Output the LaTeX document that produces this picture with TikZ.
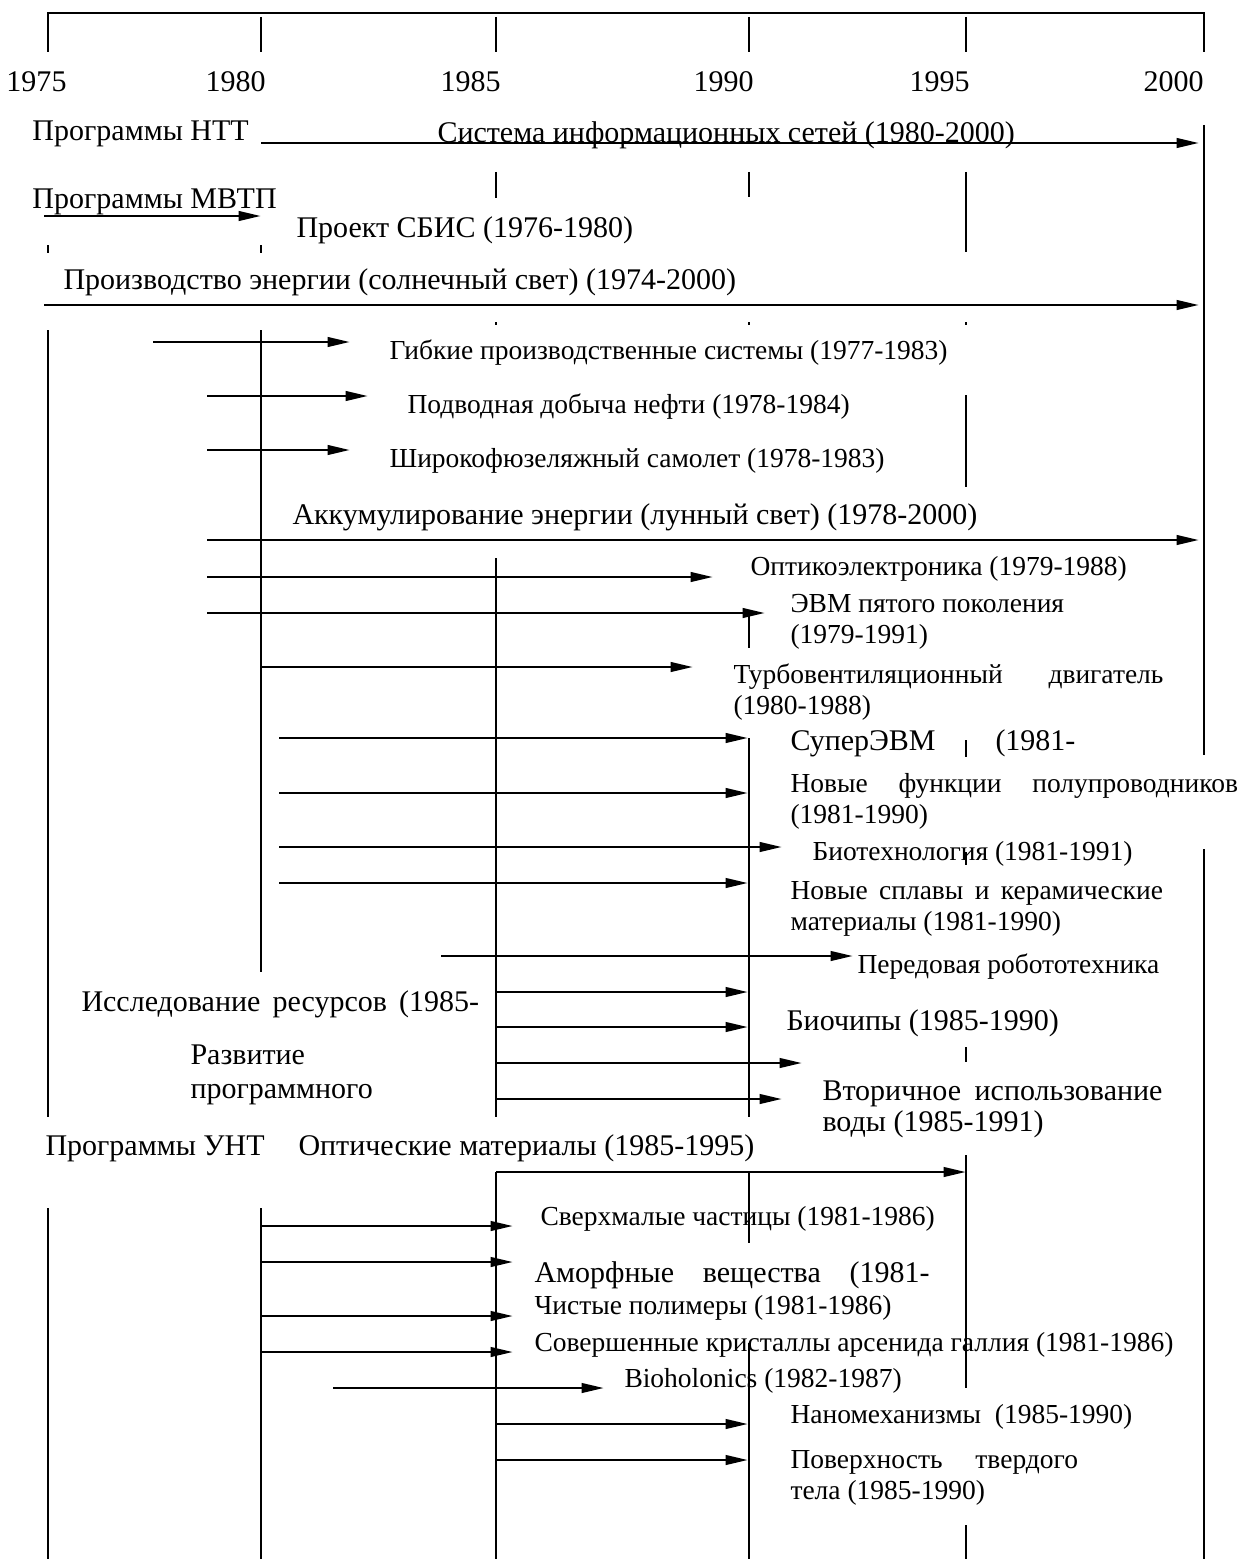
\documentclass[tikz,border=0pt]{standalone}
\usepackage{fontspec}
\setmainfont{Liberation Serif}
\usetikzlibrary{arrows.meta}

\begin{document}
\begin{tikzpicture}[
    x=0.4pt, y=-0.4pt,
    every node/.style={inner sep=0pt, anchor=base west},
    big/.style={font=\fontsize{12}{12.4}\selectfont},
    small/.style={font=\fontsize{11}{12.4}\selectfont},
    yline/.style={line width=0.8pt},
    thinline/.style={line width=0.5pt},
    bar/.style={line width=1.1pt, -{Triangle[length=9pt, width=3.8pt]}},
  ]
  \useasboundingbox (0,0) rectangle (1240,1559);

  % scale of years
  \draw[yline] (48,52) -- (48,13) -- (1204,13) -- (1204,52);
  \foreach \x in {261,496,749,966}
    \draw[yline] (\x,17) -- (\x,52);
  \foreach \yr/\xe in {1975/67, 1980/266, 1985/501, 1990/754, 1995/970, 2000/1204}
    \node[big, anchor=base east] (y\yr) at (\xe,92) {\yr};

  % broken year lines
  \foreach \x/\a/\b in {48/245/253, 48/330/1117, 48/1208/1559,
      261/245/253, 261/330/972, 261/1208/1559,
      496/172/198, 496/322/325, 496/558/972, 496/1172/1559,
      749/172/197, 749/322/325, 749/615/648, 749/738/1117, 749/1172/1243, 749/1343/1559,
      966/172/252, 966/322/325, 966/395/487, 966/740/757, 966/852/865, 966/1047/1062,
      966/1155/1388, 966/1525/1559,
      1204/125/755, 1204/849/1559}
    \draw[yline] (\x,\a) -- (\x,\b);
  \draw[thinline] (496,972) -- (496,1117);

  % project arrows
  \foreach \yy/\a/\b in {143/261/1199, 216/44/261, 305/44/1199,
      342/153/350, 396/207/368, 450/207/350, 540/207/1199,
      577/207/713, 613/207/765, 667/261/693,
      738/279/748, 793/279/748, 847/279/782, 883/279/748, 956/441/853,
      992/496/748, 1027/496/748, 1063/496/802, 1099/496/782,
      1226/261/513, 1262/261/513, 1316/261/513, 1352/261/513, 1388/333/604,
      1424/496/748, 1460/496/748}
    \draw[bar] (\a,\yy) -- (\b,\yy);
  \draw[thinline] (496,1172) -- (786,1172);
  \draw[bar] (786,1172) -- (966,1172);

  \node[big] (ntt) at (32,140) {Программы НТТ};
  \node[big] (net) at (437,143) {Система информационных сетей (1980-2000)};
  \node[big] (mvtp) at (32,208) {Программы МВТП};
  \node[big] (vlsi) at (296,237) {Проект СБИС (1976-1980)};
  \node[big] (sun) at (63,289) {Производство энергии (солнечный свет) (1974-2000)};
  \node[small] (fms) at (389,359) {Гибкие производственные системы (1977-1983)};
  \node[small] (oil) at (407,413) {Подводная добыча нефти (1978-1984)};
  \node[small] (plane) at (389,467) {Широкофюзеляжный самолет (1978-1983)};
  \node[big] (moon) at (292,524) {Аккумулирование энергии (лунный свет) (1978-2000)};
  \node[small] (opto) at (750,575) {Оптикоэлектроника (1979-1988)};
  \node[small] (fifth) at (790,612) {\parbox[t]{130pt}{ЭВМ пятого поколения\\(1979-1991)}};
  \node[small] (turbo) at (733,683) {\parbox[t]{172pt}{Турбовентиляционный\hfill двигатель\\(1980-1988)}};
  \node[big] (super) at (790,750) {\makebox[114pt][s]{СуперЭВМ (1981-}};
  \node[small] (semi) at (790,792) {\parbox[t]{179pt}{Новые\hfill функции\hfill полупроводников\\(1981-1990)}};
  \node[small] (bio) at (812,860) {Биотехнология (1981-1991)};
  \node[small] (alloy) at (790,899) {\parbox[t]{149pt}{Новые\hfill сплавы\hfill и\hfill керамические\\материалы (1981-1990)}};
  \node[small] (robot) at (857,973) {Передовая робототехника};
  \node[big] (res) at (81,1011) {\makebox[159pt][s]{Исследование ресурсов (1985-}};
  \node[big] (chip) at (786,1030) {Биочипы (1985-1990)};
  \node[font=\fontsize{12}{13.6}\selectfont] (soft) at (190,1064) {\parbox[t]{90pt}{Развитие\\программного}};
  \node[big] (water) at (822,1100) {\parbox[t]{136pt}{Вторичное\hfill использование\\воды (1985-1991)}};
  \node[big] (unt) at (45,1155) {Программы УНТ};
  \node[big] (optmat) at (298,1155) {Оптические материалы (1985-1995)};
  \node[small] (ultra) at (540,1225) {Сверхмалые частицы (1981-1986)};
  \node[big] (amorph) at (534,1282) {\makebox[158pt][s]{Аморфные вещества (1981-}};
  \node[small] (poly) at (534,1314) {Чистые полимеры (1981-1986)};
  \node[small] (gaas) at (534,1351) {Совершенные кристаллы арсенида галлия (1981-1986)};
  \node[small] (holo) at (624,1387) {Bioholonics (1982-1987)};
  \node[small] (nano) at (790,1423) {Наномеханизмы\ \ (1985-1990)};
  \node[small] (surf) at (790,1468) {\parbox[t]{115pt}{Поверхность\hfill твердого\\тела (1985-1990)}};
\end{tikzpicture}
\end{document}
